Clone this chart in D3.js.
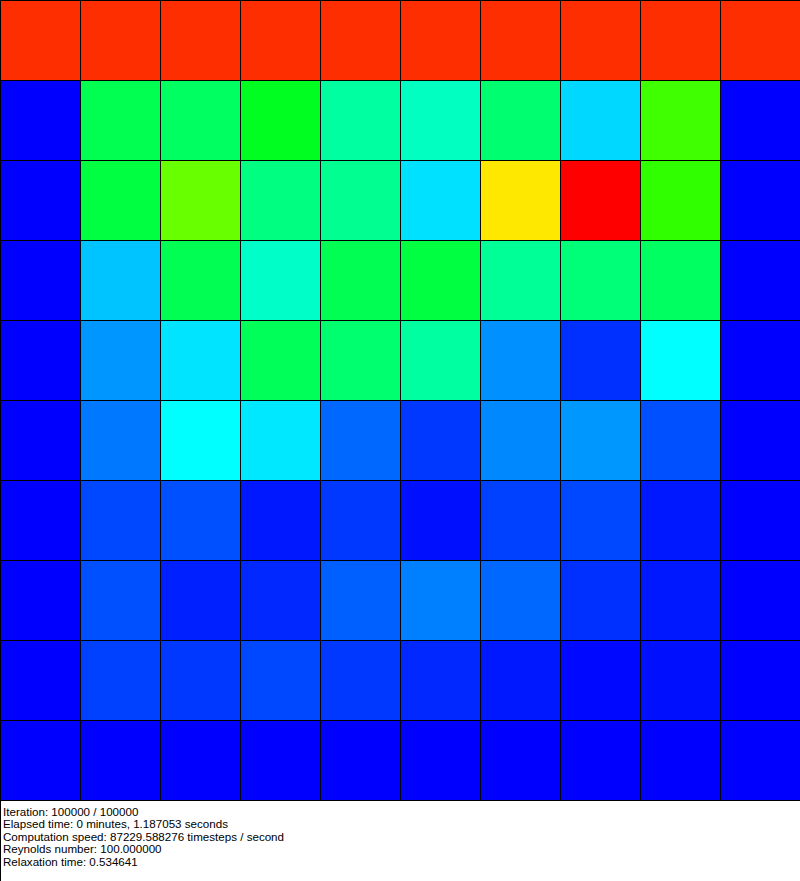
<!DOCTYPE html>
<html>
<head>
<meta charset="utf-8">
<script src="https://cdn.jsdelivr.net/npm/d3@7"></script>
<style>
  html, body { margin: 0; padding: 0; background: #fff; }
  svg { display: block; }
</style>
</head>
<body>
<div id="chart"></div>
<script>
// Lattice cells, top row first; value 0 = blue, 1 = red
const rowIndex = [0, 1, 2, 3, 4, 5, 6, 7, 8, 9]
const colIndex = [0, 1, 2, 3, 4, 5, 6, 7, 8, 9]

const row0 = [0.955, 0.955, 0.955, 0.955, 0.955, 0.955, 0.955, 0.955, 0.955, 0.955]
const row1 = [0, 0.422, 0.406, 0.469, 0.343, 0.312, 0.39, 0.212, 0.563, 0]
const row2 = [0, 0.437, 0.602, 0.375, 0.359, 0.22, 0.7725, 1.0, 0.547, 0]
const row3 = [0, 0.192, 0.42, 0.304, 0.42, 0.437, 0.353, 0.382, 0.406, 0]
const row4 = [0, 0.147, 0.224, 0.414, 0.392, 0.343, 0.141, 0.047, 0.25, 0]
const row5 = [0, 0.118, 0.25, 0.227, 0.102, 0.055, 0.133, 0.149, 0.078, 0]
const row6 = [0, 0.071, 0.078, 0.024, 0.055, 0.016, 0.063, 0.071, 0.024, 0]
const row7 = [0, 0.078, 0.031, 0.039, 0.094, 0.125, 0.102, 0.047, 0.024, 0]
const row8 = [0, 0.063, 0.055, 0.071, 0.055, 0.039, 0.024, 0.008, 0.016, 0]
const row9 = [0, 0, 0, 0, 0, 0, 0, 0, 0, 0]

const statusLines = [
  "Iteration: 100000 / 100000",
  "Elapsed time: 0 minutes, 1.187053 seconds",
  "Computation speed: 87229.588276 timesteps / second",
  "Reynolds number: 100.000000",
  "Relaxation time: 0.534641"
]

const width = 800
const height = 881
const gridSize = 800

const rows = [row0, row1, row2, row3, row4, row5, row6, row7, row8, row9]
const cells = []
rows.forEach((values, r) => {
  values.forEach((v, c) => cells.push({ row: rowIndex[r], col: colIndex[c], value: v }))
})

const x = d3.scaleBand().domain(colIndex).range([0, gridSize])
const y = d3.scaleBand().domain(rowIndex).range([0, gridSize])

// blue -> cyan -> green -> yellow -> red
const color = d3.scaleLinear()
  .domain([0, 0.25, 0.5, 0.75, 1])
  .range(["#0000ff", "#00ffff", "#00ff00", "#ffff00", "#ff0000"])
  .clamp(true)

const svg = d3.select("#chart")
  .append("svg")
  .attr("width", width)
  .attr("height", height)

svg.append("g")
  .selectAll("rect")
  .data(cells)
  .join("rect")
  .attr("x", d => x(d.col) + 0.5)
  .attr("y", d => y(d.row) + 0.5)
  .attr("width", x.bandwidth())
  .attr("height", y.bandwidth())
  .attr("fill", d => color(d.value))
  .attr("stroke", "#000")
  .attr("stroke-width", 1)
  .attr("shape-rendering", "crispEdges")

// left border of the status panel
svg.append("line")
  .attr("x1", 0.5)
  .attr("x2", 0.5)
  .attr("y1", gridSize)
  .attr("y2", height)
  .attr("stroke", "#000")
  .attr("shape-rendering", "crispEdges")

svg.append("g")
  .selectAll("text")
  .data(statusLines)
  .join("text")
  .attr("x", 3)
  .attr("y", (d, i) => gridSize + 15.5 + i * 12.6)
  .attr("font-family", "'Liberation Sans', Arial, sans-serif")
  .attr("font-size", "11.6px")
  .attr("fill", "#000")
  .text(d => d)
</script>
</body>
</html>
